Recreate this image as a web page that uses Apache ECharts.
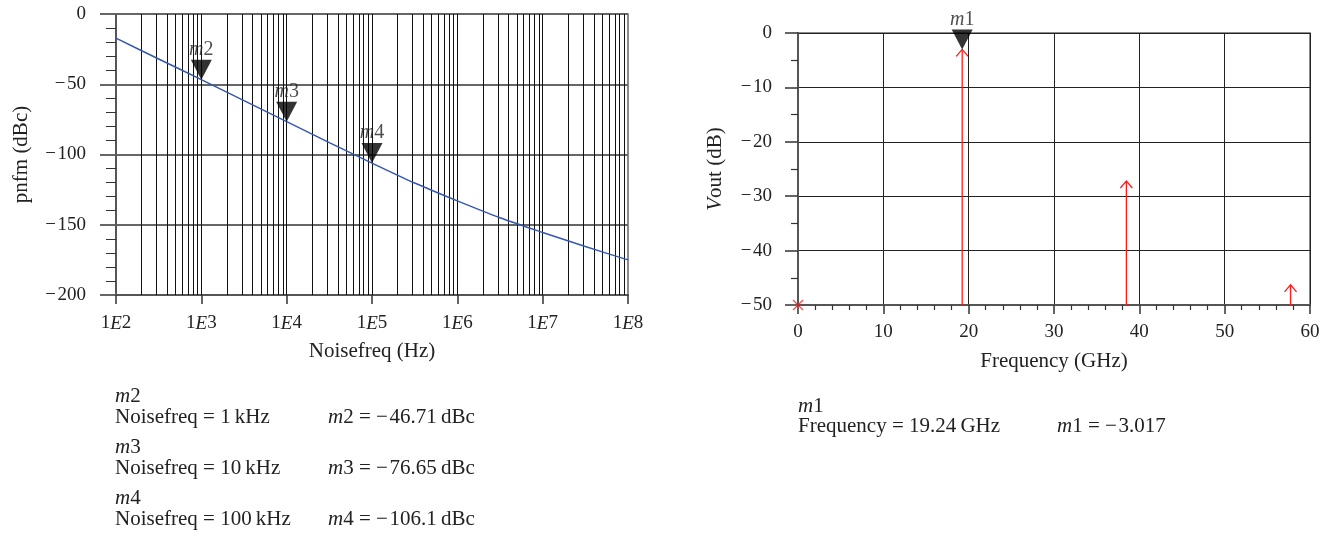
<!DOCTYPE html>
<html><head><meta charset="utf-8">
<script src="https://cdn.jsdelivr.net/npm/echarts@6/dist/echarts.min.js"></script>
<style>html,body{margin:0;padding:0;background:#fff}#c{width:1336px;height:541px}</style>
</head><body><div id="c"></div>
<script>
// ---- Left chart: phase noise ----
const noiseFreqHz = [100, 316, 1000, 3162, 10000, 31623, 100000, 316228, 1000000, 3162278, 10000000, 31622777, 100000000];
const pnfmDbc     = [-17.2, -32.0, -46.71, -61.7, -76.65, -91.5, -106.1, -120.3, -133.0, -145.0, -155.5, -165.5, -175.0];
const phaseMarkerNames = ['m2', 'm3', 'm4'];
const phaseMarkerFreqHz = [1000, 10000, 100000];
const phaseMarkerFreqText = ['1\u2009kHz', '10\u2009kHz', '100\u2009kHz'];
const phaseMarkerDbc = [-46.71, -76.65, -106.1];
const noiseTickLabels = ['1E2', '1E3', '1E4', '1E5', '1E6', '1E7', '1E8'];
const pnfmTicks = [-200, -150, -100, -50, 0];

// ---- Right chart: spectrum ----
const spectrumFreqGHz = [19.24, 38.48, 57.72];
const spectrumVoutDb  = [-3.017, -27.2, -46.3];
const dcFreqGHz = [0];
const dcVoutDb  = [-50];
const specMarkerNames = ['m1'];
const specMarkerFreqGHz = [19.24];
const specMarkerVout = [-3.017];
const freqTicks = [0, 10, 20, 30, 40, 50, 60];
const voutTicks = [-50, -40, -30, -20, -10, 0];

const SERIF = '"Liberation Serif", "DejaVu Serif", serif';
const TXT = '#222';
const minus = v => String(v).replace('-', '\u2212\u200A');
const italicOf = size => ({fontStyle: 'italic', fontFamily: SERIF, fontSize: size, color: TXT});

// log-axis grid line positions (2..9 per decade plus decades)
const logGridValues = [];
for (let d = 2; d < 8; d++) {
  for (let m = 1; m <= 9; m++) {
    if (d === 2 && m === 1) continue;
    logGridValues.push(m * Math.pow(10, d));
  }
}

const chart = echarts.init(document.getElementById('c'), null, {renderer: 'canvas'});

const phaseMarkerData = phaseMarkerFreqHz.map((f, i) => ({value: [f, phaseMarkerDbc[i]], name: phaseMarkerNames[i]}));
const specMarkerData = specMarkerFreqGHz.map((f, i) => ({value: [f, specMarkerVout[i]], name: specMarkerNames[i]}));

const markerLabel = {
  show: true, position: 'top', distance: 0,
  formatter: p => '{i|m}' + p.name.slice(1),
  fontFamily: SERIF, fontSize: 20, color: TXT,
  rich: {i: italicOf(20)}
};

const TF = 21;
const textBase = {fontFamily: SERIF, fontSize: TF, fill: TXT, rich: {i: {fontStyle: 'italic', fontFamily: SERIF, fontSize: TF, fill: TXT}}};
const graphics = [];
phaseMarkerNames.forEach((n, i) => {
  const y0 = 386 + i * 51;
  graphics.push({type: 'text', left: 115, top: y0, style: Object.assign({text: '{i|m}' + n.slice(1)}, textBase)});
  graphics.push({type: 'text', left: 115, top: y0 + 21, style: Object.assign({text: 'Noisefreq = ' + phaseMarkerFreqText[i]}, textBase)});
  graphics.push({type: 'text', left: 328, top: y0 + 21, style: Object.assign({text: '{i|m}' + n.slice(1) + ' = ' + minus(phaseMarkerDbc[i]) + '\u2009dBc'}, textBase)});
});
specMarkerNames.forEach((n, i) => {
  graphics.push({type: 'text', left: 798, top: 396, style: Object.assign({text: '{i|m}' + n.slice(1)}, textBase)});
  graphics.push({type: 'text', left: 798, top: 416, style: Object.assign({text: 'Frequency = ' + specMarkerFreqGHz[i] + '\u2009GHz'}, textBase)});
  graphics.push({type: 'text', left: 1057, top: 416, style: Object.assign({text: '{i|m}' + n.slice(1) + ' = ' + minus(specMarkerVout[i])}, textBase)});
});

const LF = 19;
const NF = 21;
const option = {
  animation: false,
  backgroundColor: '#fff',
  grid: [
    {left: 116, top: 14, width: 512, height: 281, show: true, borderColor: '#666', borderWidth: 1.5, backgroundColor: 'transparent'},
    {left: 798, top: 33, width: 512, height: 272, show: true, borderColor: '#666', borderWidth: 1.5, backgroundColor: 'transparent'}
  ],
  xAxis: [
    {
      gridIndex: 0, type: 'log', logBase: 10, min: 100, max: 100000000,
      axisLine: {show: true, onZero: false, lineStyle: {color: '#555', width: 2}},
      axisTick: {show: true, length: 9, lineStyle: {color: '#333', width: 1.5}},
      splitLine: {show: false},
      axisLabel: {
        margin: 19, fontFamily: SERIF, fontSize: LF, color: TXT,
        formatter: v => {
          const idx = Math.round(Math.log10(v)) - 2;
          return (noiseTickLabels[idx] || '').replace('E', '{i|E}');
        },
        rich: {i: italicOf(LF)}
      },
      name: 'Noisefreq (Hz)', nameLocation: 'middle', nameGap: 46,
      nameTextStyle: {fontFamily: SERIF, fontSize: NF, color: TXT}
    },
    {
      gridIndex: 1, type: 'value', min: freqTicks[0], max: freqTicks[freqTicks.length - 1], interval: 10,
      axisLine: {show: true, onZero: false, lineStyle: {color: '#555', width: 2}},
      axisTick: {show: true, length: 9, lineStyle: {color: '#333', width: 1.5}},
      minorTick: {show: true, splitNumber: 5, length: 5, lineStyle: {color: '#333', width: 1.2}},
      splitLine: {show: true, lineStyle: {color: '#222', width: 1}},
      axisLabel: {margin: 18, fontFamily: SERIF, fontSize: LF, color: TXT},
      name: 'Frequency (GHz)', nameLocation: 'middle', nameGap: 46,
      nameTextStyle: {fontFamily: SERIF, fontSize: NF, color: TXT}
    }
  ],
  yAxis: [
    {
      gridIndex: 0, type: 'value', min: pnfmTicks[0], max: pnfmTicks[pnfmTicks.length - 1], interval: 50,
      axisLine: {show: true, onZero: false, lineStyle: {color: '#555', width: 2}},
      axisTick: {show: true, length: 16, lineStyle: {color: '#666', width: 2}},
      minorTick: {show: true, splitNumber: 5, length: 10, lineStyle: {color: '#333', width: 1}},
      splitLine: {show: true, lineStyle: {color: '#666', width: 2}},
      axisLabel: {margin: 30, fontFamily: SERIF, fontSize: LF, color: TXT, formatter: v => minus(v)},
      name: 'pnfm (dBc)', nameLocation: 'middle', nameGap: 84, nameRotate: 90,
      nameTextStyle: {fontFamily: SERIF, fontSize: NF, color: TXT}
    },
    {
      gridIndex: 1, type: 'value', min: voutTicks[0], max: voutTicks[voutTicks.length - 1], interval: 10,
      axisLine: {show: true, onZero: false, lineStyle: {color: '#555', width: 2}},
      axisTick: {show: true, length: 13, lineStyle: {color: '#333', width: 1.5}},
      minorTick: {show: true, splitNumber: 2, length: 7, lineStyle: {color: '#333', width: 1.2}},
      splitLine: {show: true, lineStyle: {color: '#222', width: 1}},
      axisLabel: {margin: 26, fontFamily: SERIF, fontSize: LF, color: TXT, formatter: v => minus(v)},
      name: '{i|V}out (dB)', nameLocation: 'middle', nameGap: 72, nameRotate: 90,
      nameTextStyle: {fontFamily: SERIF, fontSize: NF, color: TXT, rich: {i: italicOf(NF)}}
    }
  ],
  series: [
    {
      type: 'line', xAxisIndex: 0, yAxisIndex: 0, z: 3,
      data: noiseFreqHz.map((f, i) => [f, pnfmDbc[i]]),
      smooth: 0.3, showSymbol: false, symbol: 'none',
      lineStyle: {color: '#3557b0', width: 1.5},
      markLine: {
        silent: true, symbol: ['none', 'none'], label: {show: false}, z: 1,
        lineStyle: {color: '#111', width: 1, type: 'solid'},
        data: logGridValues.map(v => ({xAxis: v}))
      }
    },
    {
      type: 'scatter', xAxisIndex: 0, yAxisIndex: 0, z: 5,
      data: phaseMarkerData,
      symbol: 'triangle', symbolRotate: 180, symbolSize: [21, 20], symbolOffset: [0, -10],
      itemStyle: {color: '#000'},
      label: markerLabel
    },
    {
      type: 'custom', xAxisIndex: 1, yAxisIndex: 1, z: 4, clip: false,
      data: spectrumFreqGHz.map((f, i) => [f, spectrumVoutDb[i]]),
      renderItem: (params, api) => {
        const x = api.value(0), y = api.value(1);
        const base = api.coord([x, voutTicks[0]]);
        const tip = api.coord([x, y]);
        const st = {stroke: '#ff1a1a', lineWidth: 1.3, fill: null};
        return {type: 'group', children: [
          {type: 'line', shape: {x1: base[0], y1: base[1], x2: tip[0], y2: tip[1]}, style: st},
          {type: 'polyline', shape: {points: [[tip[0] - 6, tip[1] + 7], [tip[0], tip[1]], [tip[0] + 6, tip[1] + 7]]}, style: st}
        ]};
      }
    },
    {
      type: 'scatter', xAxisIndex: 1, yAxisIndex: 1, z: 4, clip: false,
      data: dcFreqGHz.map((f, i) => [f, dcVoutDb[i]]),
      symbol: 'path://M0,0L10,10M10,0L0,10', symbolSize: 10,
      itemStyle: {color: 'none', borderColor: '#ff1a1a', borderWidth: 1.3}
    },
    {
      type: 'scatter', xAxisIndex: 1, yAxisIndex: 1, z: 5, clip: false,
      data: specMarkerData,
      symbol: 'triangle', symbolRotate: 180, symbolSize: [21, 20], symbolOffset: [0, -10],
      itemStyle: {color: '#000'},
      label: markerLabel
    }
  ],
  graphic: graphics
};
chart.setOption(option);
</script>
</body></html>
